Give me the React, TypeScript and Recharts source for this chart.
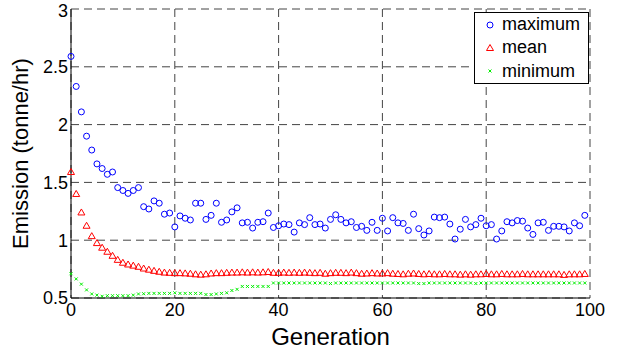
import React from "react";
import {CartesianGrid, Label, Scatter, ScatterChart, XAxis, YAxis} from "recharts";

const generations = Array.from({length: 100}, (_, i) => i);

const maximum = [
  2.59, 2.33, 2.11, 1.90, 1.78, 1.66, 1.62, 1.57, 1.59, 1.455,
  1.43, 1.405, 1.43, 1.455, 1.29, 1.27, 1.34, 1.32, 1.225, 1.235,
  1.115, 1.21, 1.19, 1.175, 1.32, 1.32, 1.18, 1.215, 1.32, 1.155,
  1.175, 1.245, 1.28, 1.15, 1.155, 1.105, 1.155, 1.16, 1.235, 1.11,
  1.125, 1.14, 1.135, 1.07, 1.15, 1.135, 1.195, 1.135, 1.14, 1.105,
  1.18, 1.22, 1.18, 1.15, 1.16, 1.11, 1.12, 1.085, 1.155, 1.085,
  1.19, 1.08, 1.195, 1.15, 1.145, 1.085, 1.225, 1.10, 1.045, 1.08,
  1.20, 1.195, 1.20, 1.14, 1.01, 1.095, 1.18, 1.115, 1.135, 1.19,
  1.125, 1.135, 1.01, 1.08, 1.16, 1.15, 1.17, 1.165, 1.105, 1.05,
  1.15, 1.155, 1.085, 1.12, 1.12, 1.115, 1.08, 1.15, 1.125, 1.215,
];

const mean = [
  1.59, 1.40, 1.24, 1.125, 1.035, 0.975, 0.935, 0.90, 0.865, 0.83,
  0.805, 0.79, 0.78, 0.77, 0.755, 0.745, 0.735, 0.727, 0.72, 0.718,
  0.715, 0.715, 0.713, 0.71, 0.705, 0.702, 0.705, 0.712, 0.715, 0.715,
  0.718, 0.72, 0.72, 0.722, 0.72, 0.722, 0.72, 0.722, 0.725, 0.718,
  0.718, 0.72, 0.718, 0.72, 0.718, 0.72, 0.718, 0.715, 0.718, 0.71,
  0.715, 0.718, 0.718, 0.715, 0.72, 0.715, 0.71, 0.712, 0.715, 0.712,
  0.712, 0.715, 0.71, 0.708, 0.705, 0.71, 0.712, 0.708, 0.705, 0.708,
  0.705, 0.705, 0.708, 0.705, 0.705, 0.702, 0.705, 0.702, 0.705, 0.705,
  0.708, 0.705, 0.705, 0.708, 0.705, 0.705, 0.705, 0.708, 0.705, 0.705,
  0.705, 0.705, 0.705, 0.705, 0.705, 0.70, 0.705, 0.705, 0.705, 0.708,
];

const minimum = [
  0.71, 0.665, 0.62, 0.57, 0.535, 0.525, 0.515, 0.52, 0.52, 0.52,
  0.52, 0.52, 0.525, 0.535, 0.537, 0.54, 0.54, 0.54, 0.54, 0.54,
  0.545, 0.54, 0.54, 0.54, 0.54, 0.54, 0.53, 0.53, 0.535, 0.54,
  0.545, 0.565, 0.575, 0.60, 0.60, 0.60, 0.60, 0.60, 0.60, 0.63,
  0.63, 0.63, 0.63, 0.63, 0.63, 0.63, 0.63, 0.63, 0.63, 0.63,
  0.625, 0.63, 0.63, 0.63, 0.63, 0.63, 0.63, 0.63, 0.63, 0.63,
  0.63, 0.63, 0.63, 0.63, 0.63, 0.63, 0.63, 0.625, 0.625, 0.63,
  0.63, 0.63, 0.63, 0.63, 0.63, 0.63, 0.63, 0.63, 0.625, 0.63,
  0.63, 0.63, 0.63, 0.63, 0.63, 0.63, 0.63, 0.63, 0.63, 0.63,
  0.63, 0.63, 0.63, 0.63, 0.63, 0.63, 0.63, 0.63, 0.63, 0.63,
];

const xTicks = [0, 20, 40, 60, 80, 100];
const yTicks = [0.5, 1, 1.5, 2, 2.5, 3];

const maxPoints = generations.map((g, i) => ({x: g, y: maximum[i]}));
const meanPoints = generations.map((g, i) => ({x: g, y: mean[i]}));
const minPoints = generations.map((g, i) => ({x: g, y: minimum[i]}));

const BLUE = "#0000ff";
const RED = "#ff0000";
const GREEN = "#00ee00";

const Circle = (p: any) => (
  <circle cx={p.cx} cy={p.cy} r={3} fill="none" stroke={BLUE} strokeWidth={1}/>
);
const Triangle = (p: any) => (
  <polygon points={`${p.cx},${p.cy - 3.5} ${p.cx - 3.5},${p.cy + 2.5} ${p.cx + 3.5},${p.cy + 2.5}`}
           fill="none" stroke={RED} strokeWidth={1}/>
);
const Cross = (p: any) => (
  <path d={`M${p.cx - 1.5},${p.cy - 1.5}L${p.cx + 1.5},${p.cy + 1.5}M${p.cx - 1.5},${p.cy + 1.5}L${p.cx + 1.5},${p.cy - 1.5}`}
        stroke={GREEN} strokeWidth={1}/>
);

const legendItems: [string, any][] = [["maximum", Circle], ["mean", Triangle], ["minimum", Cross]];

const LegendBox = () => (
  <div style={{
    position: "absolute", left: 474, top: 12, width: 113, height: 70,
    border: "1px solid #000", background: "#fff",
    fontFamily: "'Liberation Sans', Arial, sans-serif", fontSize: 18, color: "#000",
  }}>
    {legendItems.map(([name, Shape]) => (
      <div key={name} style={{display: "flex", alignItems: "center", height: 23.3}}>
        <svg width={27} height={20}>
          <Shape cx={15} cy={10}/>
        </svg>
        <span>{name}</span>
      </div>
    ))}
  </div>
);

const App = () => {
  const font = {fontFamily: "'Liberation Sans', Arial, sans-serif", fill: "#000"};
  return (
    <div style={{position: "absolute", left: 0, top: 0, width: 626, height: 351, background: "#fff"}}>
      <ScatterChart width={626} height={351} margin={{top: 9, right: 36, bottom: 0, left: 0}}>
        <CartesianGrid stroke="#444" strokeDasharray="8 5"/>
        <XAxis type="number" dataKey="x" domain={[0, 100]} ticks={xTicks} height={53}
               axisLine={{stroke: "#000"}} tickLine={false} tickSize={4} tickMargin={1}
               tick={{...font, fontSize: 18}}>
          <Label value="Generation" position="insideBottom" offset={6}
                 style={{...font, fontSize: 24}}/>
        </XAxis>
        <YAxis type="number" dataKey="y" domain={[0.5, 3]} ticks={yTicks} width={71}
               axisLine={{stroke: "#000"}} tickLine={false} tickSize={2} tickMargin={1}
               tick={{...font, fontSize: 18}}>
          <Label value="Emission (tonne/hr)" angle={-90} position="insideLeft" offset={20}
                 style={{...font, fontSize: 22, textAnchor: "middle"}}/>
        </YAxis>
        <Scatter name="maximum" data={maxPoints} shape={Circle} isAnimationActive={false}/>
        <Scatter name="mean" data={meanPoints} shape={Triangle} isAnimationActive={false}/>
        <Scatter name="minimum" data={minPoints} shape={Cross} isAnimationActive={false}/>
      </ScatterChart>
      <LegendBox/>
    </div>
  );
};

export default App;
